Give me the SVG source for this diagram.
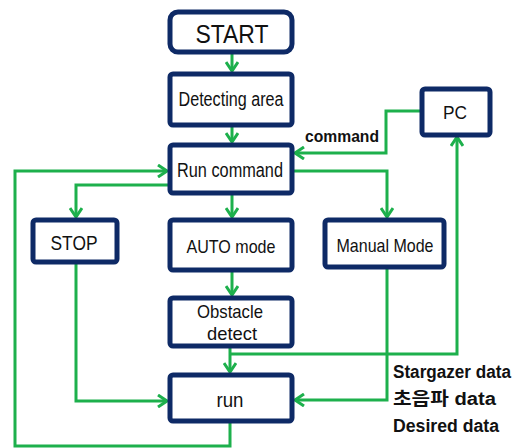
<svg xmlns="http://www.w3.org/2000/svg" width="520" height="448" viewBox="0 0 520 448">
<defs>
<style>
.box{fill:#fff;stroke:#0e2a66;stroke-width:5}
.t{font-family:"Liberation Sans",Arial,sans-serif;fill:#111;text-anchor:middle}
.lbl{font-family:"Liberation Sans","Noto Sans CJK KR",sans-serif;fill:#111;font-weight:bold}
.c{fill:none;stroke:#1db04c;stroke-width:3}
</style>
<marker id="ah" markerUnits="userSpaceOnUse" viewBox="0 0 14 14" refX="12" refY="7" markerWidth="14" markerHeight="14" orient="auto">
<path d="M3,1 L12,7 L3,13" fill="none" stroke="#1db04c" stroke-width="3"/>
</marker>
</defs>
<rect width="520" height="448" fill="#fff"/>
<g id="connectors">
<path class="c" d="M232,54 V71" marker-end="url(#ah)"/>
<path class="c" d="M232,127 V142" marker-end="url(#ah)"/>
<path class="c" d="M232,195 V217" marker-end="url(#ah)"/>
<path class="c" d="M232,272 V295" marker-end="url(#ah)"/>
<path class="c" d="M230,348 V372" marker-end="url(#ah)"/>
<path class="c" d="M230,354 H457 V137" marker-end="url(#ah)"/>
<path class="c" d="M420,111 H386 V153 H295" marker-end="url(#ah)"/>
<path class="c" d="M294,171 H387 V217" marker-end="url(#ah)"/>
<path class="c" d="M387,269 V400 H295" marker-end="url(#ah)"/>
<path class="c" d="M172,185 H76 V217" marker-end="url(#ah)"/>
<path class="c" d="M76,264 V401 H167" marker-end="url(#ah)"/>
<path class="c" d="M230,423 V446 H15 V171 H167" marker-end="url(#ah)"/>
</g>
<g id="start"><rect class="box" x="170" y="12" width="122" height="40" rx="8"/><text class="t" x="232" y="43" font-size="25" textLength="73" lengthAdjust="spacingAndGlyphs">START</text></g>
<g id="detecting"><rect class="box" x="170" y="74" width="122" height="51" rx="3"/><text class="t" x="231" y="106" font-size="20" textLength="105" lengthAdjust="spacingAndGlyphs">Detecting area</text></g>
<g id="runcommand"><rect class="box" x="170" y="145" width="122" height="48" rx="3"/><text class="t" x="230" y="177" font-size="20" textLength="106" lengthAdjust="spacingAndGlyphs">Run command</text></g>
<g id="stop"><rect class="box" x="33" y="220" width="84" height="42" rx="3"/><text class="t" x="74" y="250" font-size="20" textLength="47" lengthAdjust="spacingAndGlyphs">STOP</text></g>
<g id="auto"><rect class="box" x="170" y="220" width="122" height="50" rx="3"/><text class="t" x="231" y="253" font-size="19" textLength="89" lengthAdjust="spacingAndGlyphs">AUTO mode</text></g>
<g id="manual"><rect class="box" x="325" y="220" width="119" height="47" rx="3"/><text class="t" x="385" y="252" font-size="19" textLength="97" lengthAdjust="spacingAndGlyphs">Manual Mode</text></g>
<g id="obstacle"><rect class="box" x="170" y="298" width="122" height="48" rx="3"/><text class="t" x="230" y="318" font-size="19" textLength="66" lengthAdjust="spacingAndGlyphs">Obstacle</text><text class="t" x="232" y="340" font-size="19" textLength="50" lengthAdjust="spacingAndGlyphs">detect</text></g>
<g id="run"><rect class="box" x="170" y="375" width="122" height="46" rx="3"/><text class="t" x="230" y="407" font-size="20" textLength="27" lengthAdjust="spacingAndGlyphs">run</text></g>
<g id="pc"><rect class="box" x="422" y="89" width="68" height="46" rx="3"/><text class="t" x="455" y="119" font-size="19" textLength="24" lengthAdjust="spacingAndGlyphs">PC</text></g>
<text class="lbl" x="305" y="142" font-size="16" textLength="74" lengthAdjust="spacingAndGlyphs">command</text>
<text class="lbl" x="393" y="378" font-size="18" textLength="118" lengthAdjust="spacingAndGlyphs">Stargazer data</text>
<text class="lbl" x="393" y="405" font-size="18" textLength="103" lengthAdjust="spacingAndGlyphs">초음파 data</text>
<text class="lbl" x="393" y="432" font-size="18" textLength="106" lengthAdjust="spacingAndGlyphs">Desired data</text>
</svg>
